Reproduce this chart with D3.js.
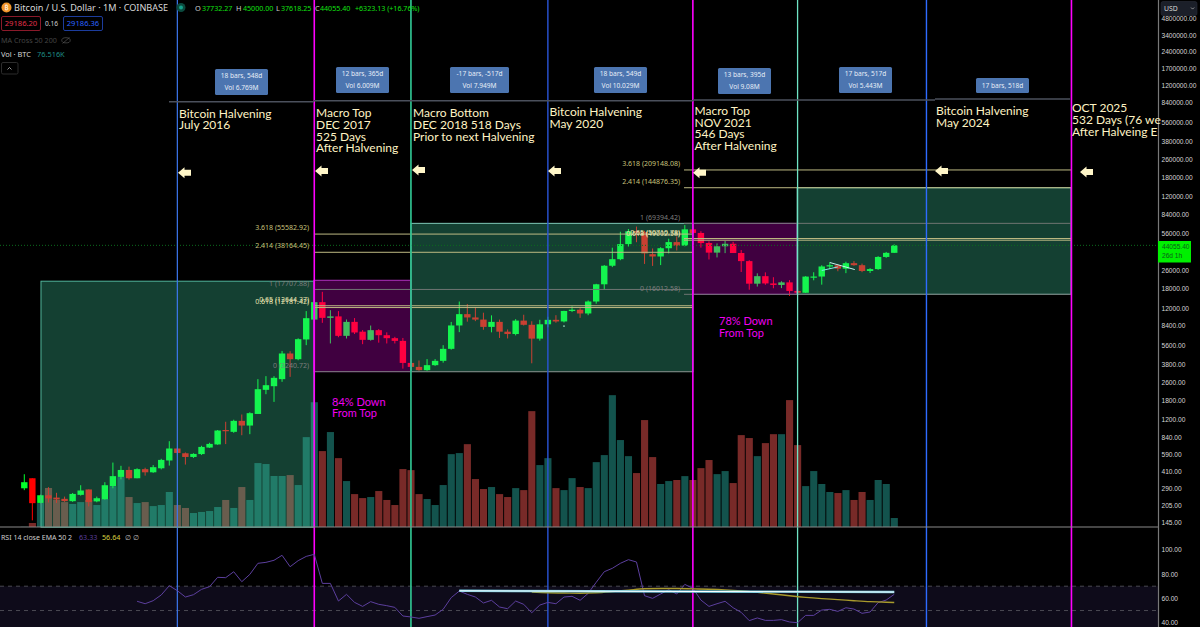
<!DOCTYPE html>
<html>
<head>
<meta charset="utf-8">
<script src="https://cdn.jsdelivr.net/npm/d3@7"></script>
<style>
  html, body { margin: 0; padding: 0; background: #000; overflow: hidden; }
  text { font-family: "Noto Sans", sans-serif; }
  .price text, .rsi text { font-family: "Liberation Sans", sans-serif; }
  .note { font-family: Lato, sans-serif; }
</style>
</head>
<body>
<div id="chart"></div>
<script>
// monthly candles Dec 2014 -> Dec 2023 (COINBASE BTCUSD)
const opens = [291,358,215,252,240,234,223,254,284,222,232,305,368,425,358,432,405,440,517,662,600,556,590,675,720,970,934,1172,1064,1352,2225,2399,2775,4715,4190,6300,9500,13620,9846,10150,6790,9060,7400,6250,7635,6880,6470,6120,3880,3574,3340,3705,4050,5190,8415,10630,9930,9500,8170,9060,7400,7050,9300,8530,6410,8620,9450,9140,11350,11650,10780,13800,19700,28900,33100,45200,58800,57700,36700,35000,41500,47100,43800,61300,56900,46200,37900,43200,45500,37600,31800,19950,23300,20050,19430,20500,17170,16540,23100,23130,28470,29230,27210,30470,29230,25940,26970,34660,37732];
const highs = [389,358,255,298,265,245,264,310,284,245,330,495,463,455,440,445,470,535,770,670,610,600,700,745,970,1150,1200,1337,1400,2775,2952,2950,4970,4943,6450,11320,19800,16850,11540,11320,9520,9800,7650,8400,7800,7300,6650,6500,4250,4080,4200,4200,5600,9050,13800,13100,12300,10950,10370,9500,7750,9580,10500,9180,9460,10070,10400,11400,12480,12050,14100,19900,29300,41950,58300,61700,64900,59500,41300,42400,50500,52900,67000,69000,59000,47900,45800,48200,47400,40000,32400,24700,25200,22800,20990,21480,18400,23300,25250,29190,31000,29800,31400,31800,30200,27500,35200,38450,45000];
const lows = [280,150,213,217,215,220,220,250,200,218,230,291,350,348,358,378,400,430,465,585,475,545,580,670,715,725,915,871,890,1350,2033,1734,2625,2910,4100,5600,9400,8880,5800,6600,6430,7050,5715,6150,5900,5800,5800,3450,3400,3300,3300,3650,3900,5100,7330,9100,9200,7700,7300,6500,6430,6850,8400,3850,6150,8100,8900,8950,11100,9850,10400,13200,17600,28100,32400,43000,47000,30000,28800,29300,37300,39600,43200,53000,42000,32900,34300,37500,37600,25400,17600,18800,19500,18150,18200,15480,16260,16500,21400,19550,27000,25800,24800,28850,25300,24900,26550,34000,37618];
const closes = [330,214,252,236,231,223,259,278,219,237,310,374,425,358,432,405,450,523,662,604,556,592,684,728,960,960,1172,1064,1374,2255,2449,2851,4715,4190,6340,9780,13620,9846,10150,6790,9060,7280,6250,7635,6880,6470,6120,3880,3574,3340,3705,4050,5190,8415,10630,9930,9500,8170,9060,7400,7050,9300,8530,6410,8620,9450,9140,11350,11650,10780,13800,19700,28900,33100,45200,58800,57700,37300,35000,41500,47100,43800,61300,56900,46200,37900,43200,45500,37600,31800,19950,23300,20050,19430,20500,17170,16540,23100,23130,28470,29230,27210,30470,29230,25940,26970,34660,37720,44055.4];

// volume in thousands of BTC
const volumes = [2,34,204,332,230,212,196,212,230,187,238,348,425,255,204,212,178,187,298,187,162,119,128,136,170,230,162,340,230,544,536,434,434,442,357,765,1062,646,808,586,391,280,246,255,306,230,187,493,484,280,238,187,357,620,629,705,408,323,340,280,255,331,314,986,527,586,331,314,416,340,331,552,612,1122,740,603,459,910,595,366,391,400,433,400,501,570,450,476,374,782,757,603,714,790,790,1080,697,348,476,366,298,289,314,230,298,230,400,366,76.5];

// RSI(14) from bar 14 on
const rsiValues = [57.6,55.6,58.1,62.8,70.4,66.3,61.1,63,67.4,69.6,77.3,77,81.9,73.7,79.7,88.8,89.6,91.3,95.4,86,91,94.5,96.2,72.3,72.3,57.8,63.3,56.7,53.4,57.3,55.1,54,52.6,45.5,44.7,43.6,45,46.3,51,60.6,66,63.3,61.1,56.2,58.4,52.9,51.5,57.8,55.1,48.2,54.5,56.7,55.6,61.1,61.7,58.4,64.1,73.2,81.9,84.7,88.8,91.8,89.9,62.2,60,63.6,67.1,63.6,71.5,68.2,58.6,53.4,55.6,57.6,52.3,48.5,41.7,43.9,41.9,41.9,42.5,40.6,40,46,46,50.4,51,49.3,52.3,51.2,47.7,48.8,56.5,58.6,63.33];
const rsiStart = 14;
const emaBars = [63,65,67,69,71,73,75,77,79,81,83,85,87,89,91,93,95,97,99,101,103,105,107,108];
const emaValues = [65.1,64.6,64.4,64.2,64.6,65.6,66.8,67.9,68.1,68.1,67.8,67.5,67,66.2,65,63.6,62.1,60.8,59.8,59,58.1,57.3,56.8,56.64];

const priceTicks = [4800000,3400000,2400000,1700000,1200000,840000,560000,380000,260000,180000,120000,84000,56000,26000,18000,12000,8400,5600,3800,2600,1800,1200,840,590,410,290,205,145];
const rsiTicks = [100,80,60,40];

// bar positions of the vertical markers
const halvingBars = [19,65,112];
const topBars = [36,83,130];
const bottomBars = [48,96];

const fib1Prices = [55582.92,38164.45,17707.88,12644.37,12181.42,3240.72];
const fib1Labels = ["3.618 (55582.92)","2.414 (38164.45)","1 (17707.88)","0.65 (12644.37)","0.618 (12181.42)","0 (3240.72)"];
const fib2Prices = [209148.08,144876.35,69394.42,50710.78,49002.58,16012.58];
const fib2Labels = ["3.618 (209148.08)","2.414 (144876.35)","1 (69394.42)","0.65 (50710.78)","0.618 (49002.58)","0 (16012.58)"];

const width = 1200, height = 627;
const paneRight = 1158, volBase = 527;

const svg = d3.select("#chart").append("svg")
  .attr("width", width)
  .attr("height", height)
  .style("display", "block")
  .style("background", "#000");

const x = d3.scaleLinear().domain([0, 108]).range([24.3, 894.24]);
const y = d3.scaleLog().domain([145, 3400000]).range([522, 35]);
const yVol = d3.scaleLinear().domain([0, 1200]).range([volBase, volBase - 141]);
const yRsi = d3.scaleLinear().domain([40, 100]).range([622.7, 549.7]);

const bars = d3.range(opens.length);
const isUp = i => closes[i] >= opens[i];

// rsi band sits behind everything
svg.append("rect")
  .attr("x", 0).attr("width", paneRight)
  .attr("y", yRsi(70)).attr("height", height - yRsi(70))
  .attr("fill", "#0e0b1a");
[70, 50].forEach(v => {
  svg.append("line")
    .attr("x1", 0).attr("x2", paneRight)
    .attr("y1", yRsi(v)).attr("y2", yRsi(v))
    .attr("stroke", "#5a5a62").attr("stroke-width", 0.8)
    .attr("stroke-dasharray", "4 4");
});

// volume
svg.append("g").selectAll("rect").data(bars).join("rect")
  .attr("x", i => x(i) - 3.5)
  .attr("width", 7.1)
  .attr("y", i => yVol(volumes[i]))
  .attr("height", i => volBase - yVol(volumes[i]))
  .attr("fill", i => isUp(i) ? "#26a69a" : "#ef5350")
  .attr("fill-opacity", 0.5);

// candles
const candles = svg.append("g");
candles.selectAll("line").data(bars).join("line")
  .attr("x1", i => x(i)).attr("x2", i => x(i))
  .attr("y1", i => y(highs[i])).attr("y2", i => y(lows[i]))
  .attr("stroke", i => isUp(i) ? "#00ff2a" : "#ff0000")
  .attr("stroke-width", 1);
candles.selectAll("rect").data(bars).join("rect")
  .attr("x", i => x(i) - 3.2)
  .attr("width", 6.4)
  .attr("y", i => y(Math.max(opens[i], closes[i])))
  .attr("height", i => Math.max(1.2, Math.abs(y(opens[i]) - y(closes[i]))))
  .attr("fill", i => isUp(i) ? "#00ff2a" : "#ff0000");

// stray mark from the original drawing
svg.append("rect").attr("x", x(67) - 0.8).attr("y", y(8300) - 0.8)
  .attr("width", 1.6).attr("height", 1.6).attr("fill", "#9db8a8");

// boxes go over the candles, the tint is what dulls the colours
function box(from, to, top, bottom, fill, fillOpacity, stroke) {
  svg.append("rect")
    .attr("x", x(from)).attr("width", x(to) - x(from))
    .attr("y", y(top)).attr("height", y(bottom) - y(top))
    .attr("fill", fill).attr("fill-opacity", fillOpacity)
    .attr("stroke", stroke).attr("stroke-width", 1);
}
box(2.07, 35.95, 21000, 130, "#45dcac", 0.29, "#52b79c");
box(35.95, 48, 21400, 3240.72, "#ff00ff", 0.25, "#b030c0");
box(48, 83, 69394.42, 3240.72, "#45dcac", 0.29, "#7fc8b8");
box(83, 95.95, 69394.42, 16012.58, "#ff00ff", 0.25, "#b030c0");
box(95.95, 129.95, 144876.35, 16012.58, "#45dcac", 0.29, "#7fc8b8");

// current price line
svg.append("line")
  .attr("x1", 0).attr("x2", paneRight)
  .attr("y1", y(44055.4)).attr("y2", y(44055.4))
  .attr("stroke", "#0b6b1d").attr("stroke-width", 1)
  .attr("stroke-dasharray", "1 2");

// fib levels
function fib(prices, labels, x1, x2, labelX) {
  const color = i => (i === 2 || i === 5) ? "#6f7472" : "#bdb983";
  const textColor = i => (i === 2 || i === 5) ? "#7d7d7d" : (i < 2 ? "#c7c27c" : "#e6e2b0");
  prices.forEach((p, i) => {
    svg.append("line")
      .attr("x1", x1).attr("x2", x2)
      .attr("y1", y(p)).attr("y2", y(p))
      .attr("stroke", color(i)).attr("stroke-width", 1);
    svg.append("text")
      .attr("x", labelX).attr("y", y(p) - 3.8)
      .attr("text-anchor", "end")
      .attr("font-size", 7)
      .attr("fill", textColor(i))
      .text(labels[i]);
  });
}
fib(fib1Prices, fib1Labels, x(36), x(83), 309);
fib(fib2Prices, fib2Labels, 684, x(130), 680);

// cycle markers
const vline = (bar, color, w) => svg.append("line")
  .attr("x1", x(bar)).attr("x2", x(bar))
  .attr("y1", 0).attr("y2", height)
  .attr("stroke", color).attr("stroke-width", w);
vline(halvingBars[0], "#3d78f0", 1.2);
vline(halvingBars[1], "#2a55d8", 1.4);
vline(halvingBars[2], "#2f6bff", 1.4);
topBars.forEach(b => vline(b, "#ff00ff", 1.6));
vline(bottomBars[0], "#2fc08e", 1.7);
vline(bottomBars[1], "#6fe4c4", 1.3);

// trend lines on the last candles
svg.append("line").attr("x1", x(99)).attr("y1", y(26200)).attr("x2", x(101)).attr("y2", y(28200))
  .attr("stroke", "#7fe9e2").attr("stroke-width", 1);
svg.append("line").attr("x1", x(100)).attr("y1", y(30900)).attr("x2", x(103.1)).attr("y2", y(26700))
  .attr("stroke", "#c5f2ee").attr("stroke-width", 1);

// pane borders
svg.append("line").attr("x1", 0).attr("x2", paneRight).attr("y1", volBase).attr("y2", volBase)
  .attr("stroke", "#8a8a8a").attr("stroke-width", 1);
svg.append("line").attr("x1", paneRight + 0.5).attr("x2", paneRight + 0.5).attr("y1", 0).attr("y2", height)
  .attr("stroke", "#787878").attr("stroke-width", 1.2);

// rsi + ema
const rsiLine = d3.line().x((d, i) => x(rsiStart + i)).y(d => yRsi(d));
svg.append("path").datum(rsiValues)
  .attr("d", rsiLine).attr("fill", "none")
  .attr("stroke", "#5c3f9e").attr("stroke-width", 1);
svg.append("path").datum(emaValues)
  .attr("d", d3.line().x((d, i) => x(emaBars[i])).y(d => yRsi(d)).curve(d3.curveMonotoneX))
  .attr("fill", "none").attr("stroke", "#a89a2c").attr("stroke-width", 1.4);
svg.append("line").attr("x1", x(54)).attr("x2", x(108))
  .attr("y1", yRsi(66.2)).attr("y2", yRsi(65.2))
  .attr("stroke", "#6fc8dc").attr("stroke-width", 2.4);
svg.append("line").attr("x1", x(54)).attr("x2", x(108))
  .attr("y1", yRsi(66.2)).attr("y2", yRsi(65.2))
  .attr("stroke", "#ffffff").attr("stroke-width", 1);

// measure arrows + labels
[[169, 314, 101.7], [314, 411, 100.7], [411, 693, 100.7], [693, 935, 100], [935, 1070, 99]].forEach(s => {
  svg.append("line")
    .attr("x1", s[0]).attr("x2", s[1]).attr("y1", s[2]).attr("y2", s[2])
    .attr("stroke", "#4b505c").attr("stroke-width", 1.4);
});
function tag(bx, by, w, h, lines) {
  svg.append("rect").attr("x", bx).attr("y", by).attr("width", w).attr("height", h)
    .attr("rx", 1.5).attr("fill", "#4c75b0");
  lines.forEach((t, i) => {
    svg.append("text")
      .attr("x", bx + w / 2)
      .attr("y", by + (lines.length === 1 ? 10.4 : 9 + i * 11.8))
      .attr("text-anchor", "middle")
      .attr("font-size", 6.6)
      .attr("fill", "#e6edf7")
      .text(t);
  });
}
tag(215, 69, 53, 26, ["18 bars, 548d", "Vol 6.769M"]);
tag(336, 67, 53, 26, ["12 bars, 365d", "Vol 6.009M"]);
tag(450, 67, 59, 26, ["-17 bars, -517d", "Vol 7.949M"]);
tag(594, 67, 53, 26, ["18 bars, 549d", "Vol 10.029M"]);
tag(718, 68, 53, 26, ["13 bars, 395d", "Vol 9.08M"]);
tag(839, 67, 53, 26, ["17 bars, 517d", "Vol 5.443M"]);
tag(976, 78, 53, 15, ["17 bars, 518d"]);

// big notes
const noteColor = "#fff3c4";
function note(nx, ny, lines, color, size) {
  svg.append("text")
    .attr("class", "note")
    .attr("font-size", size || 12)
    .attr("fill", color || noteColor)
    .selectAll("tspan").data(lines).join("tspan")
    .attr("x", nx)
    .attr("y", (d, i) => ny + 4.2 + i * 11.7)
    .text(d => d);
}
note(179, 113.5, ["Bitcoin Halvening", "July 2016"]);
note(316, 113, ["Macro Top", "DEC 2017", "525 Days", "After Halvening"]);
note(413, 113, ["Macro Bottom", "DEC 2018 518 Days", "Prior to next Halvening"]);
note(549.5, 111.7, ["Bitcoin Halvening", "May 2020"]);
note(694.5, 110.7, ["Macro Top", "NOV 2021", "546 Days", "After Halvening"]);
note(936, 111, ["Bitcoin Halvening", "May 2024"]);
// cut off by the price axis in the original
note(1072, 108, ["OCT 2025", "532 Days (76 we", "After Halveing E"]);
note(332, 401.5, ["84% Down", "From Top"], "#f000f0", 11);
note(719, 321, ["78% Down", "From Top"], "#f000f0", 11);

// block arrows
function arrow(ax, ay) {
  const p = d3.path();
  p.moveTo(ax, ay);
  p.lineTo(ax + 6.5, ay - 5.5);
  p.lineTo(ax + 6.5, ay - 3);
  p.lineTo(ax + 13, ay - 3);
  p.lineTo(ax + 13, ay + 3);
  p.lineTo(ax + 6.5, ay + 3);
  p.lineTo(ax + 6.5, ay + 5.5);
  p.closePath();
  svg.append("path").attr("d", p.toString()).attr("fill", "#fff6c8");
}
[[178, 172.7], [315, 171], [412, 170], [548, 171], [693, 172.7], [935, 171], [1080, 172]].forEach(a => arrow(a[0], a[1]));

// axes
const priceAxis = svg.append("g").attr("class", "price")
  .attr("transform", `translate(${paneRight + 0.5},0)`)
  .call(d3.axisRight(y).tickValues(priceTicks).tickSize(0).tickPadding(3).tickFormat(d => d.toFixed(2)));
priceAxis.select(".domain").remove();
priceAxis.selectAll("text").attr("font-size", 6.6).attr("fill", "#d6d6d6");

const rsiAxis = svg.append("g").attr("class", "rsi")
  .attr("transform", `translate(${paneRight + 0.5},0)`)
  .call(d3.axisRight(yRsi).tickValues(rsiTicks).tickSize(0).tickPadding(3).tickFormat(d => d.toFixed(2)));
rsiAxis.select(".domain").remove();
rsiAxis.selectAll("text").attr("font-size", 6.6).attr("fill", "#d6d6d6");

// last price tag
svg.append("rect").attr("x", paneRight).attr("y", 241).attr("width", 33).attr("height", 21.5).attr("fill", "#00f000");
svg.append("text").attr("x", 1162).attr("y", 248.5).attr("font-size", 6.6).attr("fill", "#0c5c1c")
  .style("font-family", "Liberation Sans").text("44055.40");
svg.append("text").attr("x", 1162).attr("y", 258).attr("font-size", 6.6).attr("fill", "#0c5c1c")
  .style("font-family", "Liberation Sans").text("26d 1h");

// currency button
svg.append("rect").attr("x", 1161).attr("y", 1.5).attr("width", 36).attr("height", 14).attr("rx", 2)
  .attr("fill", "#1b1f29").attr("stroke", "#2a2e39").attr("stroke-width", 0.6);
svg.append("text").attr("x", 1164).attr("y", 10.8).attr("font-size", 6.8).attr("fill", "#d8d8d8").text("USD");
svg.append("path").attr("d", "M1191 7.5l1.6 1.6 1.6-1.6").attr("fill", "none").attr("stroke", "#bbb").attr("stroke-width", 0.7);

// header legend
const legend = (lx, ly, t, color, size) => svg.append("text")
  .attr("x", lx).attr("y", ly).attr("font-size", size || 8.4).attr("fill", color).text(t);

svg.append("circle").attr("cx", 6.5).attr("cy", 7.5).attr("r", 5).attr("fill", "#f2962a");
legend(6.5, 10.3, "₿", "#fff", 7).attr("text-anchor", "middle");
legend(14, 10.8, "Bitcoin / U.S. Dollar · 1M · COINBASE", "#d8d8d8", 9.1);
svg.append("circle").attr("cx", 181).attr("cy", 7.5).attr("r", 4.5).attr("fill", "#0b4a3e");
svg.append("circle").attr("cx", 181).attr("cy", 7.5).attr("r", 2).attr("fill", "#15a08a");

[["O", 195, "37732.27", 202], ["H", 236, "45000.00", 243], ["L", 276, "37618.25", 281], ["C", 315, "44055.40", 320]].forEach(o => {
  legend(o[1], 10.5, o[0], "#cfcfcf", 7.4);
  legend(o[3], 10.5, o[2], "#12e012", 7.1);
});
legend(355, 10.5, "+6323.13 (+16.76%)", "#12e012", 7.1);

svg.append("rect").attr("x", 1.5).attr("y", 16.5).attr("width", 39).attr("height", 14).attr("rx", 1.5)
  .attr("fill", "#000").attr("stroke", "#8a1a2a");
legend(21, 26.3, "29186.20", "#e0304a", 7.6).attr("text-anchor", "middle");
legend(45, 26.3, "0.16", "#cfcfcf", 6.6);
svg.append("rect").attr("x", 63.5).attr("y", 16.5).attr("width", 39).attr("height", 14).attr("rx", 1.5)
  .attr("fill", "#000").attr("stroke", "#1c3c9c");
legend(83, 26.3, "29186.36", "#2a62ff", 7.6).attr("text-anchor", "middle");

legend(1, 43, "MA Cross 50 200", "#444", 7.2);
svg.append("ellipse").attr("cx", 66).attr("cy", 40.3).attr("rx", 4.2).attr("ry", 2.6)
  .attr("fill", "none").attr("stroke", "#555").attr("stroke-width", 0.7);
svg.append("line").attr("x1", 62.5).attr("y1", 43.5).attr("x2", 69.5).attr("y2", 37.5)
  .attr("stroke", "#555").attr("stroke-width", 0.7);
legend(1, 57, "Vol · BTC", "#d8d8d8", 7.4);
legend(37, 57, "76.516K", "#1f8f86", 7.4);
svg.append("rect").attr("x", 1.5).attr("y", 62.5).attr("width", 16.5).attr("height", 11.5).attr("rx", 1.5)
  .attr("fill", "none").attr("stroke", "#2c2c2c");
svg.append("path").attr("d", "M7.5 69.5l2-2 2 2").attr("fill", "none").attr("stroke", "#bbb").attr("stroke-width", 0.8);

legend(1, 540, "RSI 14 close EMA 50 2", "#cfcfcf", 7);
legend(79, 540, "63.33", "#5c3f9e", 7.2);
legend(102, 540, "56.64", "#d8d040", 7.2);
legend(125, 540, "∅ ∅", "#bdbdbd", 7);
</script>
</body>
</html>
